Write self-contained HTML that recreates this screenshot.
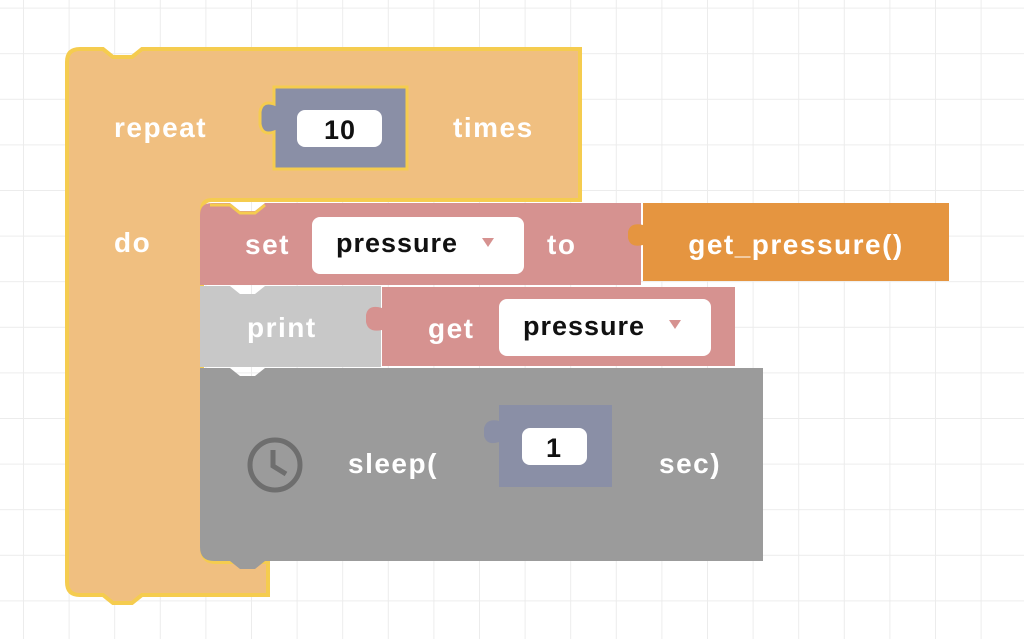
<!DOCTYPE html>
<html><head><style>
html,body{margin:0;padding:0;background:#fff;}
svg{display:block;}
text{font-family:"Liberation Sans",sans-serif;font-size:28px;font-weight:bold;letter-spacing:1.5px;fill:#fff;}
.b{fill:#111;font-size:27px;letter-spacing:1px;}
</style></head><body>
<svg width="1024" height="639" viewBox="0 0 1024 639">
<defs>
<pattern id="g" x="23" y="7.6" width="45.6" height="45.6" patternUnits="userSpaceOnUse">
<path d="M0 0V45.6M0 0H45.6" stroke="#ececec" stroke-width="2" fill="none"/>
</pattern>
</defs>
<rect width="1024" height="639" fill="url(#g)"/>

<!-- repeat block -->
<path d="M80 49 H103 L113 57 H132 L142 49 H580 V200 H212 Q202 200 202 210 V548 Q202 562 216 562 H268 V595 H142 L132 603 H113 L103 595 H80 Q67 595 67 582 V62 Q67 49 80 49 Z" fill="#f0bf80" stroke="#f5cc4f" stroke-width="4"/>
<text x="114" y="137">repeat</text>
<text x="114" y="252">do</text>
<text x="453" y="137">times</text>

<!-- 10 value -->
<path d="M274 87 H407 V169 H274 V132 Q262 136 260 124 V112 Q262 100 274 104 Z" fill="#8a8fa6" stroke="#f5cc4f" stroke-width="3"/>
<rect x="297" y="110" width="85" height="37" rx="8" fill="#fff"/>
<text x="340" y="139" text-anchor="middle" class="b">10</text>

<!-- set block -->
<path d="M212 203 H230 L240 211 H255 L265 203 H641 V285 H200 V215 Q200 203 212 203 Z" fill="#d69290"/>
<path d="M210 205 H230 L240 213 H255 L265 205" fill="none" stroke="#f5cc4f" stroke-width="3"/>
<text x="245" y="254">set</text>
<rect x="312" y="217" width="212" height="57" rx="8" fill="#fff"/>
<text x="336" y="252" class="b">pressure</text>
<path d="M482 238 h12 l-6 9 z" fill="#d69290"/>
<text x="547" y="254">to</text>

<!-- get_pressure -->
<path d="M643 203 H949 V281 H643 V245 Q630 248 628 238 V232 Q630 222 643 225 Z" fill="#e59540"/>
<text x="796" y="254" text-anchor="middle">get_pressure()</text>

<!-- print block -->
<path d="M200 286 H230 L240 294 H255 L265 286 H381 V367 H200 Z" fill="#c8c8c8"/>
<!-- get block -->
<path d="M382 287 H735 V366 H382 V330 Q368 333 366 322 V315 Q368 304 382 308 Z" fill="#d69290"/>
<text x="247" y="337">print</text>
<text x="428" y="338">get</text>
<rect x="499" y="299" width="212" height="57" rx="8" fill="#fff"/>
<text x="523" y="335" class="b">pressure</text>
<path d="M669 320 h12 l-6 9 z" fill="#d69290"/>

<!-- sleep block -->
<path d="M200 368 H230 L240 376 H255 L265 368 H763 V561 H265 L255 569 H240 L230 561 H214 Q200 561 200 547 Z" fill="#9b9b9b"/>
<circle cx="275" cy="465" r="25" fill="none" stroke="#6e6e6e" stroke-width="5"/>
<path d="M273 450 V466 L286 474" fill="none" stroke="#6e6e6e" stroke-width="5"/>
<text x="348" y="473">sleep(</text>
<path d="M499 405 H612 V487 H499 V442 Q487 446 484 436 V428 Q487 418 499 421 Z" fill="#8a8fa6"/>
<rect x="522" y="428" width="65" height="37" rx="8" fill="#fff"/>
<text x="554" y="457" text-anchor="middle" class="b">1</text>
<text x="659" y="473">sec)</text>
</svg>
</body></html>
